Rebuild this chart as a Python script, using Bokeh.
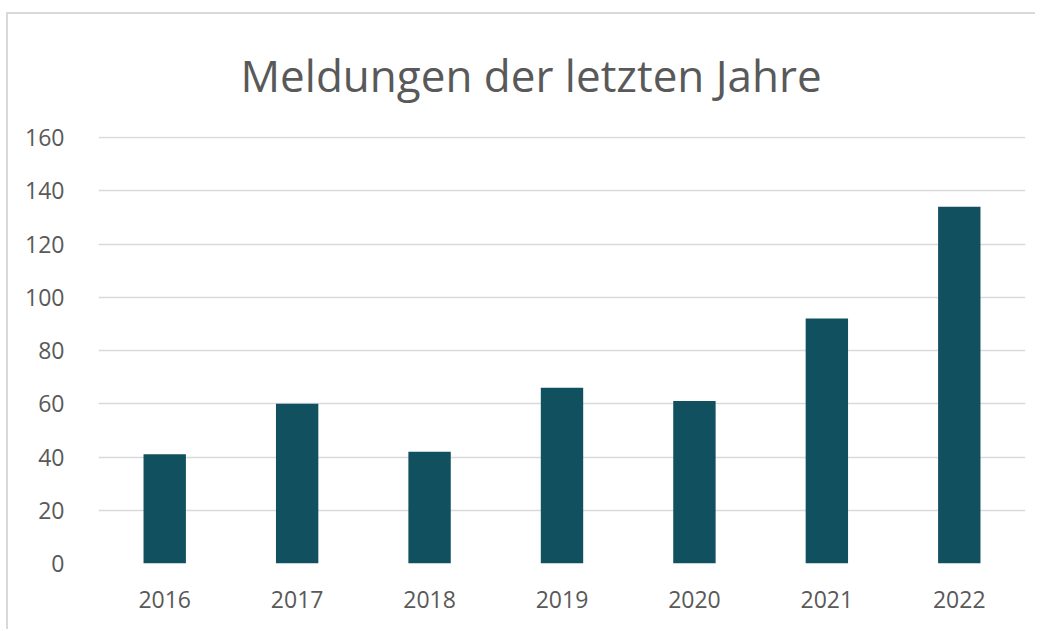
from bokeh.plotting import figure
from bokeh.models import Range1d, FixedTicker
from bokeh.embed import file_html
from bokeh.resources import INLINE

years = ["2016", "2017", "2018", "2019", "2020", "2021", "2022"]
counts = [41, 60, 42, 66, 61, 92, 134]
y_ticks = [0, 20, 40, 60, 80, 100, 120, 140, 160]
title_text = "Meldungen der letzten Jahre"

FONT = "Open Sans"
GRAY = "#595959"

p = figure(x_range=years, y_range=Range1d(0, 160.4), width=1029, height=617,
           output_backend="svg", toolbar_location=None,
           min_border_left=90, min_border_right=12, min_border_top=119, min_border_bottom=68)
p.styles = {"border-top": "2px solid #d9d9d9", "border-left": "2px solid #d9d9d9",
            "margin-top": "12px", "margin-left": "6px"}

p.vbar(x=years, top=counts, width=0.32, fill_color="#10505f", line_color=None)

p.title.text = title_text
p.title.text_font = FONT
p.title.text_font_size = "44px"
p.title.text_font_style = "normal"
p.title.text_color = GRAY
p.title.align = "left"
p.title.vertical_align = "top"
p.title.offset = 142
p.title.standoff = 60

p.outline_line_color = None
p.xgrid.grid_line_color = None
p.ygrid.grid_line_color = "#d9d9d9"
p.ygrid.grid_line_width = 1.5
p.yaxis.ticker = FixedTicker(ticks=y_ticks)

for ax in (p.xaxis, p.yaxis):
    ax.axis_line_color = None
    ax.major_tick_line_color = None
    ax.minor_tick_line_color = None
    ax.major_label_text_font = FONT
    ax.major_label_text_font_size = "23px"
    ax.major_label_text_color = GRAY
p.yaxis.major_label_standoff = 28
p.xaxis.major_label_standoff = 21

open("out.html", "w").write(file_html(p, INLINE))
